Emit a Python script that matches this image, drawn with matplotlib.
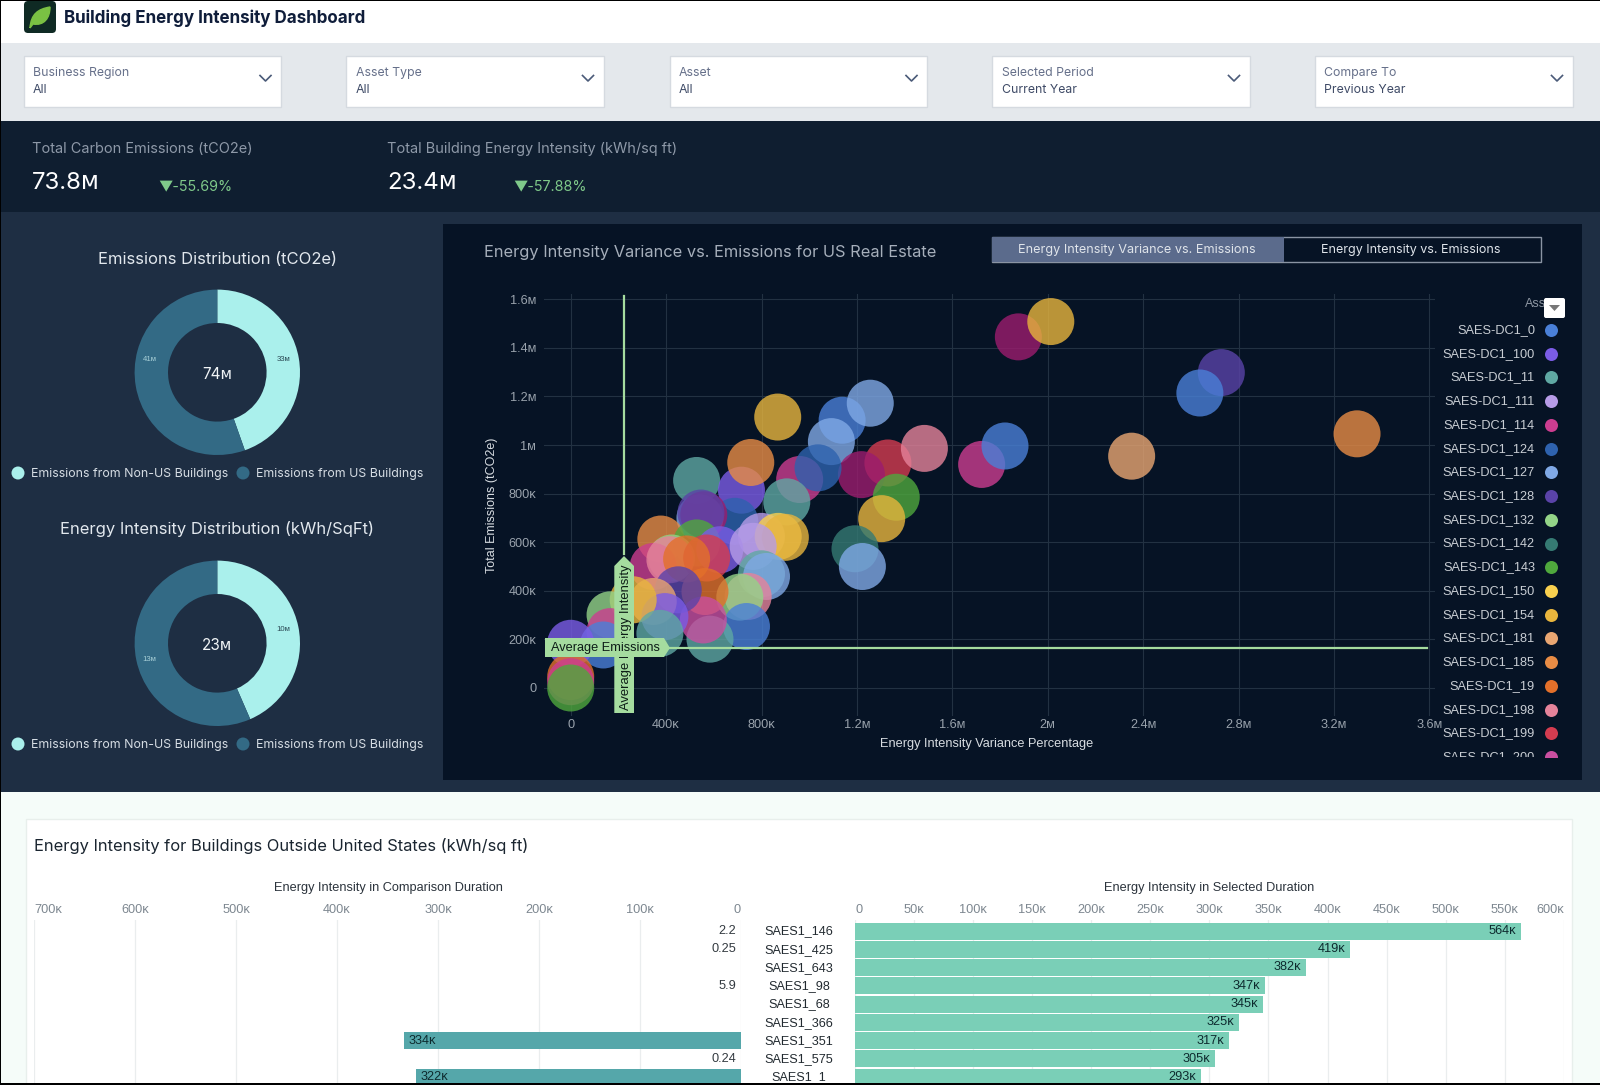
import matplotlib
matplotlib.use("Agg")
import matplotlib.pyplot as plt
from matplotlib.patches import Rectangle, FancyBboxPatch, Polygon, PathPatch, Circle
from matplotlib.path import Path

plt.rcParams['font.family'] = ['Liberation Sans', 'DejaVu Sans']
UI = ['Inter', 'DejaVu Sans']
K = '\u1d0b'
M = '\u1d0d'

W, H = 1600, 1085

# ---------- data ----------
filter_names = ['Business Region', 'Asset Type', 'Asset', 'Selected Period', 'Compare To']
filter_values = ['All', 'All', 'All', 'Current Year', 'Previous Year']

kpi_titles = ['Total Carbon Emissions (tCO2e)', 'Total Building Energy Intensity (kWh/sq ft)']
kpi_values = ['73.8' + M, '23.4' + M]
kpi_deltas = ['\u25bc-55.69%', '\u25bc-57.88%']

donut_labels = ['Emissions from Non-US Buildings', 'Emissions from US Buildings']
emissions_dist = [33, 41]
intensity_dist = [10, 13]

legend_assets = ['SAES-DC1_0', 'SAES-DC1_100', 'SAES-DC1_11', 'SAES-DC1_111', 'SAES-DC1_114',
                 'SAES-DC1_124', 'SAES-DC1_127', 'SAES-DC1_128', 'SAES-DC1_132', 'SAES-DC1_142',
                 'SAES-DC1_143', 'SAES-DC1_150', 'SAES-DC1_154', 'SAES-DC1_181', 'SAES-DC1_185',
                 'SAES-DC1_19', 'SAES-DC1_198', 'SAES-DC1_199', 'SAES-DC1_200']
asset_colors = ['#4a80d8', '#7b5ce6', '#5fa8a3', '#b79ce8', '#cc3d90',
                '#2e62ae', '#80a9e6', '#5a43a8', '#94d488', '#357a73',
                '#4fa83d', '#f9d04f', '#e8b53d', '#e9a672', '#e88c45',
                '#e3702a', '#e5839a', '#d43c50', '#c94fa0']
offlist_color = '#9c1c6e'

# drawing order, bottom to top; -1 is an asset scrolled out of the legend
pt_asset = [7, 0, 14, 13, 4, 0, -1, 12,
            0, 6, 6, 12, 17, -1, 16, 10, 12, 9, 6,
            2, 4, 5, 2, 1, 14, 5, 6, -1, 7,
            14, 10, 3, 11, 12, 1, 8, 4, 16, 17, 15, 3,
            2, 6, 16, 8, 15, 0, 2, 18, 7, 13, 1,
            12, 8, 4, 0, 1, 2, 15, 4, 10]
pt_x = [2728e3, 2638e3, 3297e3, 2352e3, 1723e3, 1821e3, 1877e3, 2013e3,
        1138e3, 1093e3, 1256e3, 868e3, 1330e3, 1219e3, 1483e3, 1365e3, 1304e3, 1192e3, 1223e3,
        528e3, 960e3, 1037e3, 906e3, 716e3, 755e3, 688e3, 542e3, 558e3, 546e3,
        378e3, 528e3, 800e3, 870e3, 900e3, 625e3, 423e3, 346e3, 416e3, 570e3, 486e3, 765e3,
        800e3, 821e3, 744e3, 709e3, 563e3, 737e3, 584e3, 556e3, 451e3, 346e3, 395e3,
        262e3, 165e3, 165e3, 137e3, 0, 374e3, 0, 0, 0]
pt_y = [1298e3, 1214e3, 1046e3, 954e3, 920e3, 996e3, 1445e3, 1508e3,
        1102e3, 1014e3, 1172e3, 1115e3, 926e3, 878e3, 986e3, 785e3, 697e3, 573e3, 500e3,
        854e3, 858e3, 906e3, 766e3, 814e3, 928e3, 686e3, 700e3, 713e3, 720e3,
        613e3, 597e3, 624e3, 624e3, 620e3, 569e3, 535e3, 500e3, 528e3, 535e3, 531e3, 583e3,
        470e3, 459e3, 377e3, 374e3, 397e3, 253e3, 201e3, 280e3, 404e3, 356e3, 294e3,
        363e3, 301e3, 232e3, 177e3, 184e3, 225e3, 47e3, 26e3, 0]
avg_intensity = 223.5e3
avg_emissions = 164.6e3

x_ticks = [0, 400e3, 800e3, 1200e3, 1600e3, 2000e3, 2400e3, 2800e3, 3200e3, 3600e3]
x_tick_labels = ['0', '400' + K, '800' + K, '1.2' + M, '1.6' + M, '2' + M, '2.4' + M, '2.8' + M, '3.2' + M, '3.6' + M]
y_ticks = [0, 200e3, 400e3, 600e3, 800e3, 1000e3, 1200e3, 1400e3, 1600e3]
y_tick_labels = ['0', '200' + K, '400' + K, '600' + K, '800' + K, '1' + M, '1.2' + M, '1.4' + M, '1.6' + M]

buildings = ['SAES1_146', 'SAES1_425', 'SAES1_643', 'SAES1_98', 'SAES1_68', 'SAES1_366', 'SAES1_351', 'SAES1_575', 'SAES1_1']
comparison = [2.2, 0.25, 0, 5.9, 0, 0, 334e3, 0.24, 322e3]
comparison_labels = ['2.2', '0.25', '', '5.9', '', '', '334' + K, '0.24', '322' + K]
selected = [564e3, 419e3, 382e3, 347e3, 345e3, 325e3, 317e3, 305e3, 293e3]
selected_labels = ['564' + K, '419' + K, '382' + K, '347' + K, '345' + K, '325' + K, '317' + K, '305' + K, '293' + K]
left_ticks = [700e3, 600e3, 500e3, 400e3, 300e3, 200e3, 100e3, 0]
left_tick_labels = ['700' + K, '600' + K, '500' + K, '400' + K, '300' + K, '200' + K, '100' + K, '0']
right_ticks = [i * 50e3 for i in range(13)]
right_tick_labels = ['0'] + ['%d%s' % (i * 50, K) for i in range(1, 13)]

# ---------- helpers ----------
fig = plt.figure(figsize=(W / 100, H / 100), dpi=100)


def ax_px(x0, y0, x1, y1, zorder=1):
    a = fig.add_axes([x0 / W, 1 - y1 / H, (x1 - x0) / W, (y1 - y0) / H], zorder=zorder)
    a.patch.set_alpha(0)
    return a


def overlay(zorder):
    a = ax_px(0, 0, W, H, zorder)
    a.set_xlim(0, W)
    a.set_ylim(H, 0)
    a.axis('off')
    return a


bg = overlay(0)
fg = overlay(10)


def rect(a, x0, y0, x1, y1, fc, ec='none', lw=0, **kw):
    a.add_patch(Rectangle((x0, y0), x1 - x0, y1 - y0, fc=fc, ec=ec, lw=lw, **kw))


def txt(a, x, y, s, px, color, ha='left', va='center', family=None, **kw):
    if family is not None:
        kw['family'] = family
    return a.text(x, y, s, fontsize=px * 0.72, color=color, ha=ha, va=va, **kw)


# ---------- page bands ----------
rect(bg, 0, 0, W, 43, '#ffffff')
rect(bg, 0, 43, W, 121, '#e4e8ec')
rect(bg, 0, 121, W, 212, '#0f1e30')
rect(bg, 0, 212, W, 792, '#1e2e43')
rect(bg, 443, 224, 1582, 780, '#061325')
rect(bg, 0, 792, W, H, '#f5fcf9')
rect(bg, 25.5, 819, 1572, H, '#ffffff', ec='#e8efec', lw=1)

# header
bg.add_patch(FancyBboxPatch((26, 3), 28, 28, boxstyle='round,pad=2,rounding_size=4', fc='#0f2a24', ec='none'))
leaf = Path([(30, 28), (31, 14), (38, 9), (50, 7), (50, 18), (44, 26), (33, 24), (30, 28)],
            [Path.MOVETO, Path.CURVE4, Path.CURVE4, Path.CURVE4, Path.CURVE4, Path.CURVE4, Path.CURVE4, Path.LINETO])
bg.add_patch(PathPatch(leaf, fc='#7ac143', ec='#7ac143', lw=1))
txt(bg, 64.5, 18.5, 'Building Energy Intensity Dashboard', 17, '#0f1d3a', family=UI, fontweight='bold')

# filters
filter_left = [23.5, 346, 669.5, 992, 1315]
for fx, name, val in zip(filter_left, filter_names, filter_values):
    rect(bg, fx, 56, fx + 257.5, 107, '#ffffff', ec='#d5dae0', lw=1)
    txt(bg, fx + 9.5, 73, name, 12.3, '#66708a', family=UI)
    txt(bg, fx + 9.5, 90, val, 12.3, '#3e4a66', family=UI)
    cx = fx + 242
    bg.plot([cx - 5.5, cx, cx + 5.5], [75.5, 81, 75.5], color='#4a5a78', lw=1.2)

# KPI band
for kx, dx, title, val, delta in zip([32, 387], [158, 513], kpi_titles, kpi_values, kpi_deltas):
    txt(bg, kx, 149, title, 14.5, '#8e99a8', family=UI)
    txt(bg, kx, 183, val, 24, '#ffffff', family=UI)
    txt(bg, dx, 186, delta, 14.3, '#7fc98a', family=UI)

# ---------- donuts ----------
donut_cols = ['#aaf0ec', '#336a85']
donut_specs = [
    (372.3, 259, 'Emissions Distribution (tCO2e)', emissions_dist, '74' + M, 473, (-.82, .16), (.8, .15)),
    (643.3, 529, 'Energy Intensity Distribution (kWh/SqFt)', intensity_dist, '23' + M, 744, (-.82, -.19), (.8, .17)),
]
for cy, ty, title, vals, center, ly, pos_us, pos_non in donut_specs:
    cx = 217.3
    R = 82.7
    a = ax_px(cx - R, cy - R, cx + R, cy + R, 2)
    a.pie(vals, colors=donut_cols, startangle=90, counterclock=False, radius=1,
          wedgeprops=dict(width=1 - 49.3 / 82.7, linewidth=0))
    a.set_xlim(-1, 1)
    a.set_ylim(-1, 1)
    a.text(0, -0.03, center, fontsize=11, color='#f0f4f6', ha='center', va='center', family=UI)
    a.text(pos_non[0], pos_non[1], '%d%s' % (vals[0], M), fontsize=5.6, color='#2b4a55', ha='center', va='center')
    a.text(pos_us[0], pos_us[1], '%d%s' % (vals[1], M), fontsize=5.6, color='#a8d0d8', ha='center', va='center')
    txt(bg, cx, ty, title, 16.6, '#e2e8ee', ha='center', family=UI)
    for lx, tx, lab, col in zip([18, 243], [30.7, 255.7], donut_labels, donut_cols):
        bg.add_patch(Circle((lx, ly), 6.5, fc=col, ec='none'))
        txt(bg, tx, ly + 1, lab, 12.4, '#d6dde4', family=UI)

# ---------- scatter ----------
txt(bg, 484, 252, 'Energy Intensity Variance vs. Emissions for US Real Estate', 16.4, '#a6afbb', family=UI)
rect(bg, 992, 237, 1541, 262, '#061325', ec='#8a94a3', lw=1)
rect(bg, 992, 237, 1284, 262, '#5b6b8c')
txt(bg, 1137, 250.5, 'Energy Intensity Variance vs. Emissions', 12.7, '#dfe4ea', ha='center', family=UI)
txt(bg, 1411, 250.5, 'Energy Intensity vs. Emissions', 12.5, '#dfe4ea', ha='center', family=UI)

sx = ax_px(544, 294, 1435, 716, 3)
sx.set_xlim((544 - 570.7) / 95.4 * 4e5, (1435 - 570.7) / 95.4 * 4e5)
sx.set_ylim((688 - 716) / 48.6 * 2e5, (688 - 294) / 48.6 * 2e5)
for s in sx.spines.values():
    s.set_visible(False)
sx.set_xticks(x_ticks, x_tick_labels)
sx.set_yticks(y_ticks, y_tick_labels)
sx.tick_params(length=0, colors='#9aa3ad', labelsize=9.2)
sx.tick_params(axis='x', pad=2)
sx.tick_params(axis='y', pad=5.5)
sx.grid(True, color='#223142', lw=0.8)
sx.set_axisbelow(True)
pt_colors = [asset_colors[i] if i >= 0 else offlist_color for i in pt_asset]
sx.scatter(pt_x, pt_y, s=(47 * 0.72) ** 2, c=pt_colors, alpha=0.8, linewidths=0, clip_on=False, zorder=3)
sx.plot([avg_intensity, avg_intensity], [550e3, 1613e3], color='#a5dc9f', lw=1.6, zorder=4)
sx.plot([400e3, 3590e3], [avg_emissions, avg_emissions], color='#a5dc9f', lw=1.6, zorder=4)
txt(bg, 987, 744, 'Energy Intensity Variance Percentage', 12.7, '#d8dde2', ha='center')
txt(bg, 491.5, 505, 'Total Emissions (tCO2e)', 12.5, '#d8dde2', ha='center', rotation=90)

# average labels
fg.add_patch(Polygon([(614.3, 713), (634, 713), (634, 566), (624, 556), (614.3, 566)], fc='#a5dc9f', ec='none', zorder=1))
txt(fg, 626.5, 637, 'Average Energy Intensity', 13, '#0c1c16', ha='center', rotation=90, zorder=2)
fg.add_patch(Polygon([(545, 638), (664, 638), (670, 648), (664, 657), (545, 657)], fc='#a5dc9f', ec='none', zorder=3))
txt(fg, 551, 648, 'Average Emissions', 12.8, '#0c1c16', zorder=4)

# scatter legend
lg = ax_px(1440, 318, 1582, 757, 4)
lg.set_xlim(1440, 1582)
lg.set_ylim((757 - 330) / 23.73, (318 - 330) / 23.73)
lg.axis('off')
for i, (name, col) in enumerate(zip(legend_assets, asset_colors)):
    lg.text(1535, i, name, fontsize=9.2, color='#c9ced4', ha='right', va='center', clip_on=True)
    lg.scatter([1551], [i], s=(13 * 0.72) ** 2, color=col, linewidths=0, clip_on=True)
txt(bg, 1525, 304, 'Asset', 12.5, '#8e97a3', zorder=4)
bg.add_patch(FancyBboxPatch((1545, 299), 19, 18, boxstyle='round,pad=1,rounding_size=2', fc='#ffffff', ec='none', zorder=5))
bg.add_patch(Polygon([(1549, 305), (1560, 305), (1554.5, 311)], fc='#777777', ec='none', zorder=6))

# ---------- bottom bars ----------
txt(bg, 33.7, 846, 'Energy Intensity for Buildings Outside United States (kWh/sq ft)', 16.5, '#1a2530', family=UI)
txt(bg, 388, 887.5, 'Energy Intensity in Comparison Duration', 12.8, '#2b333c', ha='center')
txt(bg, 1209, 887.5, 'Energy Intensity in Selected Duration', 12.8, '#2b333c', ha='center')

row_lim = ((1083 - 931) / 18.25, (920 - 931) / 18.25)
rows = list(range(len(buildings)))


def style_bar_axis(a, ticks, labels):
    for s in a.spines.values():
        s.set_visible(False)
    a.xaxis.tick_top()
    a.set_xticks(ticks, labels)
    a.set_yticks([])
    a.set_ylim(*row_lim)
    a.tick_params(length=0, colors='#7d8790', labelsize=9.2, pad=2.8)
    a.grid(True, axis='x', color='#eaedee', lw=0.9)
    a.set_axisbelow(True)


bl = ax_px(34, 920, 741, 1083, 3)
bl.set_xlim(700e3, 0)
style_bar_axis(bl, left_ticks, left_tick_labels)
bl.get_xticklabels()[0].set_ha('left')
bl.get_xticklabels()[-1].set_ha('right')
bl.barh(rows, comparison, height=17 / 18.25, color='#55a7aa')
for i, (v, lab) in enumerate(zip(comparison, comparison_labels)):
    if v > 1000:
        bl.annotate(lab, (v, i), xytext=(3.5, 0), textcoords='offset points', ha='left', va='center',
                    fontsize=9.2, color='#0d2a2e')
    elif lab:
        bl.annotate(lab, (v, i), xytext=(-3.5, 0), textcoords='offset points', ha='right', va='center',
                    fontsize=9.2, color='#333a40')

br = ax_px(855, 920, 1563.8, 1083, 3)
br.set_xlim(0, 600e3)
style_bar_axis(br, right_ticks, right_tick_labels)
br.get_xticklabels()[0].set_ha('left')
br.get_xticklabels()[-1].set_ha('right')
br.barh(rows, selected, height=17 / 18.25, color='#7acfb7')
for i, (v, lab) in enumerate(zip(selected, selected_labels)):
    br.annotate(lab, (v, i), xytext=(-3.5, 0), textcoords='offset points', ha='right', va='center',
                fontsize=9.2, color='#0d2a2e')

for i, b in enumerate(buildings):
    txt(bg, 799, 931.5 + 18.25 * i, b, 12.6, '#222a30', ha='center')

# screenshot frame
rect(fg, 0, 1083, W, H, '#000000')
rect(fg, 0, 0, W, 1, '#000000')
rect(fg, 0, 0, 1, H, '#000000')

fig.savefig('out.png', dpi=100)
